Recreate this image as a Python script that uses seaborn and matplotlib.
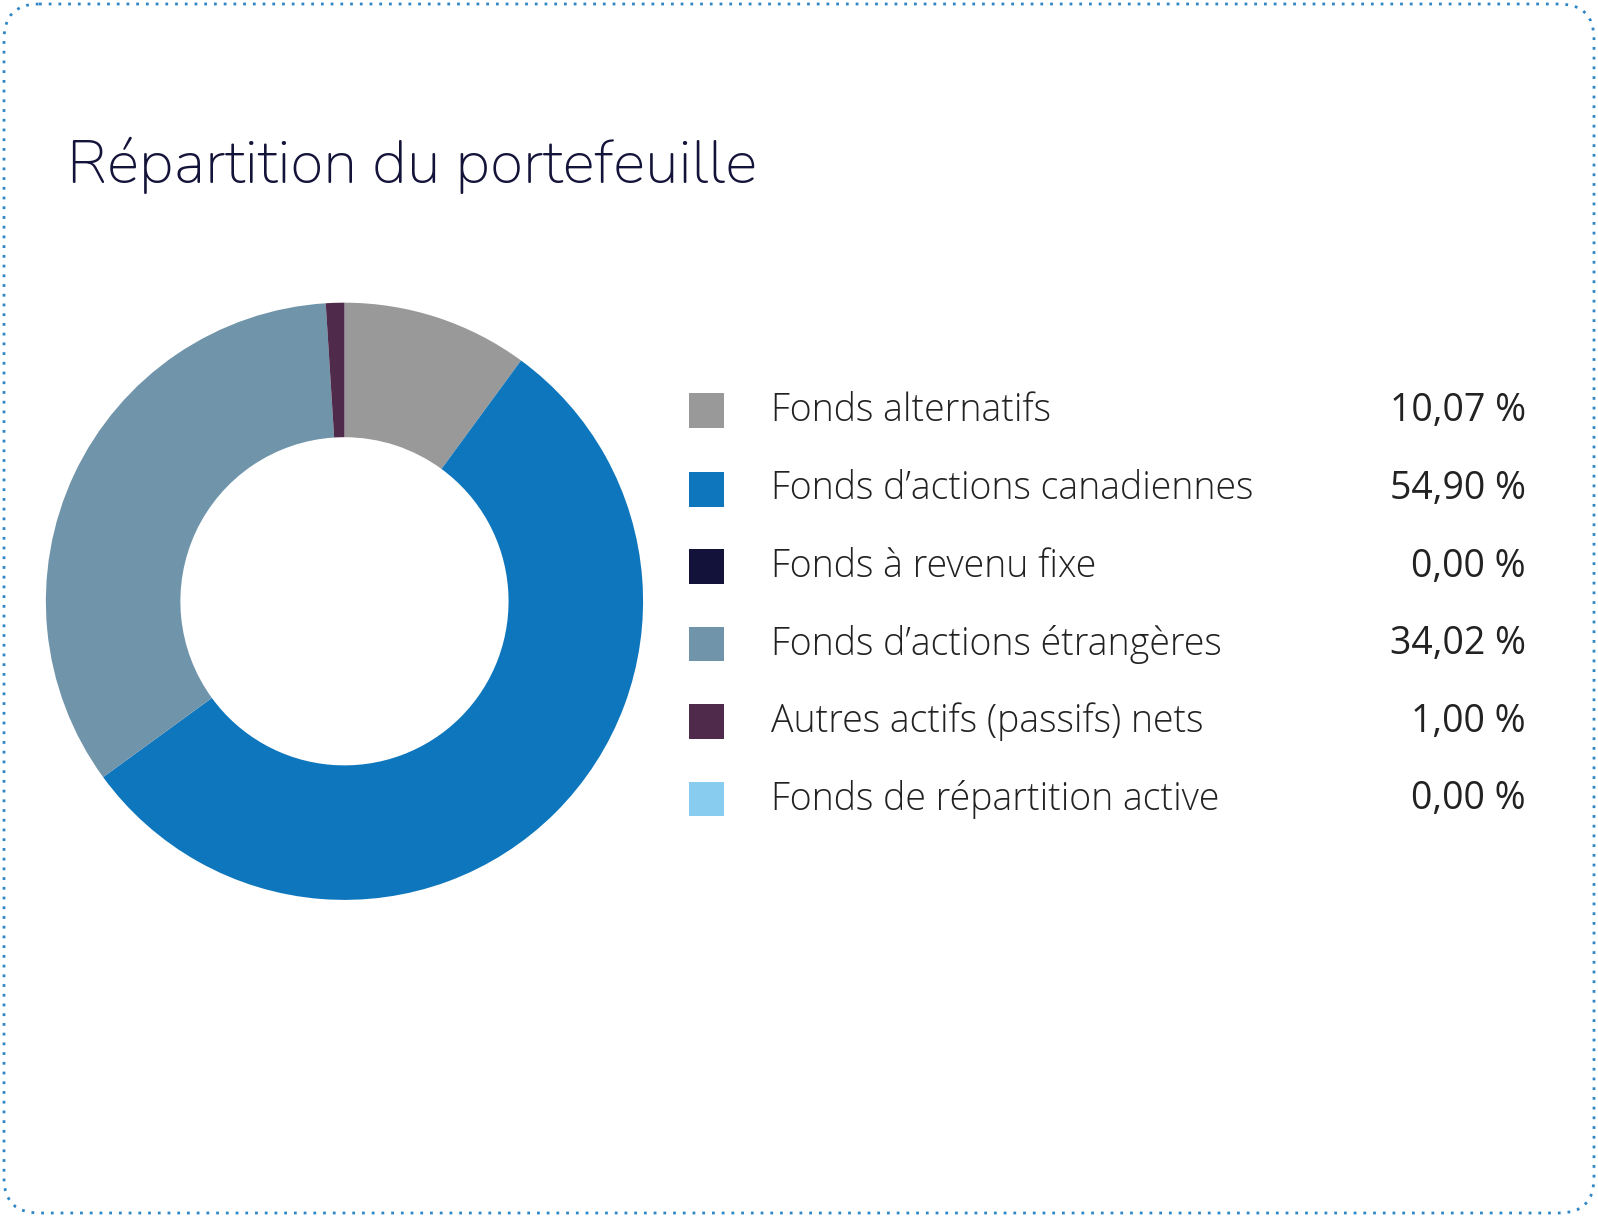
import matplotlib.pyplot as plt
import seaborn as sns
from matplotlib.patches import FancyBboxPatch, Rectangle

categories = ['Fonds alternatifs', 'Fonds d\u2019actions canadiennes', 'Fonds \u00e0 revenu fixe',
              'Fonds d\u2019actions \u00e9trang\u00e8res', 'Autres actifs (passifs) nets',
              'Fonds de r\u00e9partition active']
values = [10.07, 54.90, 0.00, 34.02, 1.00, 0.00]
value_labels = ['10,07 %', '54,90 %', '0,00 %', '34,02 %', '1,00 %', '0,00 %']
colors = ['#999999', '#0e76bc', '#12123a', '#7094aa', '#4f2a4a', '#88cdf0']

sns.set_theme(style='white')
plt.rcParams['font.family'] = ['Open Sans', 'DejaVu Sans']

W, H = 1598, 1217
s = W / 1568
fig = plt.figure(figsize=(W / 100, H / 100), dpi=100)
bg = fig.add_axes([0, 0, 1, 1])
bg.set_xlim(0, W)
bg.set_ylim(H, 0)
bg.axis('off')

# dotted rounded frame
bg.add_patch(FancyBboxPatch((4, 4), W - 8, H - 8, boxstyle='round,pad=0,rounding_size=35',
                            fill=False, ec='#2f86c6', lw=2, ls=(0, (1, 2.5))))

bg.text(66 * s, 162 * s, 'R\u00e9partition du portefeuille', fontsize=44, color='#14143a',
        va='center', ha='left', family=['Nunito', 'Lato', 'DejaVu Sans'])

# donut
cx, cy, r = 338 * s, 590 * s, 293 * s
ax = fig.add_axes([(cx - r) / W, 1 - (cy + r) / H, 2 * r / W, 2 * r / H])
ax.pie(values, colors=colors, startangle=90, counterclock=False, radius=1,
       wedgeprops=dict(width=1 - 161 / 293, linewidth=0))
ax.set_aspect('equal')
ax.set_xlim(-1, 1)
ax.set_ylim(-1, 1)

# legend
rows_y = [403, 480, 556, 632, 708, 784]
for y, cat, lab, col in zip(rows_y, categories, value_labels, colors):
    y *= s
    bg.add_patch(Rectangle((676 * s, y - 17 * s), 34 * s, 34 * s, color=col, lw=0))
    bg.text(757 * s, y, cat, fontsize=27, color='#222222', va='center', ha='left',
            fontweight='light')
    bg.text(1497 * s, y, lab, fontsize=27, color='#222222', va='center', ha='right')

fig.savefig('out.png', dpi=100)
